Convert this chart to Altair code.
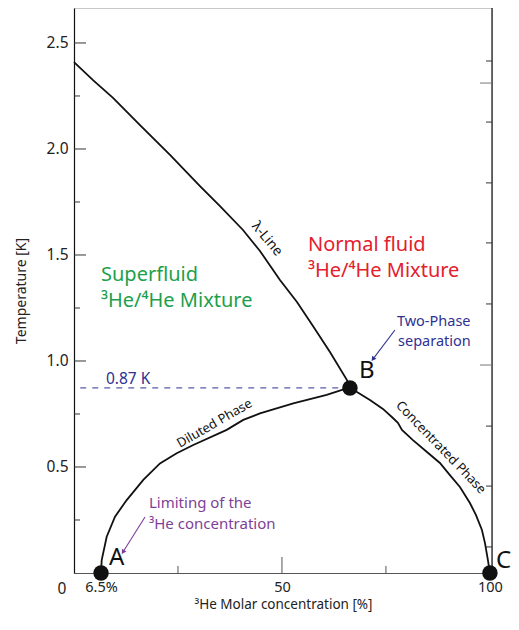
import altair as alt
import pandas as pd

# ---- data ----
lambda_x = [0, 4.57, 9.38, 15.87, 23.08, 30.29, 35.10, 40.63, 44.71, 49.52, 53.61, 57.45, 61.54, 65.63, 66.35]
lambda_t = [2.410, 2.325, 2.241, 2.113, 1.972, 1.825, 1.731, 1.618, 1.519, 1.382, 1.278, 1.165, 1.042, 0.910, 0.873]

dil_x = [6.5, 6.66, 7.86, 9.86, 12.67, 16.66, 20.67, 24.69, 28.68, 36.71, 40.70, 44.71, 52.72, 60.75, 65.55, 66.35]
dil_t = [0.0, 0.061, 0.171, 0.266, 0.344, 0.439, 0.517, 0.565, 0.604, 0.675, 0.722, 0.753, 0.800, 0.840, 0.871, 0.873]

conc_x = [66.35, 68.03, 71.15, 74.28, 76.68, 77.88, 78.85, 81.49, 84.86, 87.98, 90.38, 92.79, 95.19, 96.63, 98.08, 98.80, 99.52, 100]
conc_t = [0.873, 0.854, 0.816, 0.774, 0.731, 0.708, 0.675, 0.627, 0.571, 0.519, 0.462, 0.406, 0.330, 0.274, 0.203, 0.142, 0.061, 0.0]

point_x = [6.5, 66.35, 100]
point_t = [0.0, 0.873, 0.0]

dash_x = [1.5, 66.35]
dash_t = [0.873, 0.873]

x_label_values = [6.5, 50, 100]
y_label_values = [0.5, 1.0, 1.5, 2.0, 2.5]
y_major_ticks = [0.5, 1.0, 1.5, 2.0, 2.5]
y_minor_ticks = [0.25, 0.75, 1.25, 1.75, 2.25]
x_short_ticks = [25, 75]
x_long_ticks = [50]
right_short_ticks = [2.415, 2.127, 1.840, 1.557, 1.269, 0.693, 0.410, 0.123]
right_long_ticks = [2.311, 0.981]

arrow1_x = [77.16, 71.88]
arrow1_t = [1.146, 1.009]
arrow2_x = [17.07, 11.78]
arrow2_t = [0.264, 0.099]

W, H = 418, 565
FONT = "Noto Sans"
GREEN = "#1d9f4b"
RED = "#e3202c"
BLUE = "#2e3192"
PURPLE = "#7e3f98"

xs = alt.Scale(domain=[0, 100.5], nice=False, zero=False)
ys = alt.Scale(domain=[0, 2.665], nice=False, zero=False)

x_axis = alt.Axis(values=x_label_values, ticks=False, grid=False,
                  labelExpr="datum.value == 6.5 ? '6.5%' : datum.label",
                  domainColor="#555555", domainWidth=1.2,
                  labelFontSize=14.5, labelPadding=7, labelColor="#222222",
                  labelFont=FONT, title="³He Molar concentration [%]",
                  titleFont=FONT, titleFontSize=13.5, titleFontWeight="normal",
                  titlePadding=4, titleColor="#222222", labelFlush=False)
y_axis = alt.Axis(values=y_label_values, format=".1f", ticks=False, grid=False,
                  domainColor="#111111", domainWidth=1.2,
                  labelFontSize=15.5, labelPadding=6, labelColor="#222222",
                  labelFont=FONT, title="Temperature [K]",
                  titleFont=FONT, titleFontSize=14, titleFontWeight="normal",
                  titlePadding=18, titleColor="#222222")


def X(field="c"):
    return alt.X(f"{field}:Q", scale=xs, axis=x_axis, title="³He Molar concentration [%]")


def Y(field="t"):
    return alt.Y(f"{field}:Q", scale=ys, axis=y_axis, title="Temperature [K]")


def df(xv, tv, **extra):
    d = pd.DataFrame({"c": xv, "t": tv})
    d["i"] = range(len(d))
    for k, v in extra.items():
        d[k] = v
    return d


def curve(xv, tv):
    return alt.Chart(df(xv, tv)).mark_line(color="#111111", strokeWidth=1.8).encode(
        x=X(), y=Y(), order="i:Q")


layers = []

# right frame line
layers.append(alt.Chart(pd.DataFrame({"t": [0]})).mark_rule(color="#111111", strokeWidth=1.2).encode(
    x=alt.value(W), y=alt.value(0), y2=alt.value(H)))

# ticks (inward)
layers.append(alt.Chart(pd.DataFrame({"t": y_major_ticks})).mark_rule(color="#333333").encode(
    y=Y(), x=alt.value(0), x2=alt.value(12)))
layers.append(alt.Chart(pd.DataFrame({"t": y_minor_ticks})).mark_rule(color="#333333").encode(
    y=Y(), x=alt.value(0), x2=alt.value(6)))
layers.append(alt.Chart(pd.DataFrame({"c": x_short_ticks})).mark_rule(color="#555555").encode(
    x=X(), y=alt.value(H), y2=alt.value(H - 7)))
layers.append(alt.Chart(pd.DataFrame({"c": x_long_ticks})).mark_rule(color="#555555").encode(
    x=X(), y=alt.value(H), y2=alt.value(H - 16)))
layers.append(alt.Chart(pd.DataFrame({"t": right_short_ticks})).mark_rule(color="#333333").encode(
    y=Y(), x=alt.value(W), x2=alt.value(W - 6)))
layers.append(alt.Chart(pd.DataFrame({"t": right_long_ticks})).mark_rule(color="#777777").encode(
    y=Y(), x=alt.value(W), x2=alt.value(W - 12)))

# curves
layers.append(curve(lambda_x, lambda_t))
layers.append(curve(dil_x, dil_t))
layers.append(curve(conc_x, conc_t))

# dashed 0.87 K line
layers.append(alt.Chart(df(dash_x, dash_t)).mark_line(color=BLUE, strokeWidth=1, strokeDash=[6, 6]).encode(
    x=X(), y=Y(), order="i:Q"))

# arrows
for ax, at, col, ang in [(arrow1_x, arrow1_t, BLUE, 217), (arrow2_x, arrow2_t, PURPLE, 212)]:
    layers.append(alt.Chart(df(ax, at)).mark_line(color=col, strokeWidth=1.1).encode(
        x=X(), y=Y(), order="i:Q"))
    layers.append(alt.Chart(df(ax[1:], at[1:])).mark_point(
        shape="triangle-up", filled=True, color=col, size=28, angle=ang, opacity=1).encode(
        x=X(), y=Y()))

# points A, B, C
layers.append(alt.Chart(df(point_x, point_t)).mark_circle(color="#111111", size=240, opacity=1).encode(
    x=X(), y=Y()))


def text(xv, tv, labels, color, size, align="left", baseline="alphabetic", angle=0, dx=0, dy=0):
    d = df(xv, tv, label=labels)
    kw = dict(color=color, fontSize=size, font=FONT, align=align, baseline=baseline, dx=dx, dy=dy)
    if angle:
        kw["angle"] = angle
    return alt.Chart(d).mark_text(**kw).encode(x=X(), y=Y(), text="label:N")


layers.append(text([6.49, 6.49], [1.377, 1.255], ["Superfluid", "³He/⁴He Mixture"], GREEN, 20))
layers.append(text([56.25, 56.25], [1.519, 1.396], ["Normal fluid", "³He/⁴He Mixture"], RED, 20))
layers.append(text([77.64, 77.9], [1.165, 1.072], ["Two-Phase", "separation"], BLUE, 14.5))
layers.append(text([18.03, 18.03], [0.307, 0.208], ["Limiting of the", "³He concentration"], PURPLE, 15))
layers.append(text([7.69], [0.89], ["0.87 K"], BLUE, 15.5))
layers.append(text([10.25, 70.4, 103.3], [0.038, 0.92, 0.024], ["A", "B", "C"], "#111111", 24, align="center"))
layers.append(text([46.4], [1.575], ["λ-Line"], "#111111", 14, align="center", baseline="middle", angle=50))
layers.append(text([33.77], [0.705], ["Diluted Phase"], "#111111", 13, align="center", baseline="middle", angle=330))
layers.append(text([88.2], [0.592], ["Concentrated Phase"], "#111111", 13, align="center", baseline="middle", angle=46))
layers.append(text([0], [0], ["0"], "#222222", 15.5, align="center", baseline="middle", dx=-12, dy=16))

chart = alt.layer(*layers).properties(
    width=W, height=H,
    autosize=alt.AutoSizeParams(type="none"),
    padding={"left": 66, "top": 0, "right": 19, "bottom": 45},
).configure_view(stroke="#c8c8c8", strokeWidth=1)

chart.save("out.html", embed_options={"renderer": "svg", "actions": False})
